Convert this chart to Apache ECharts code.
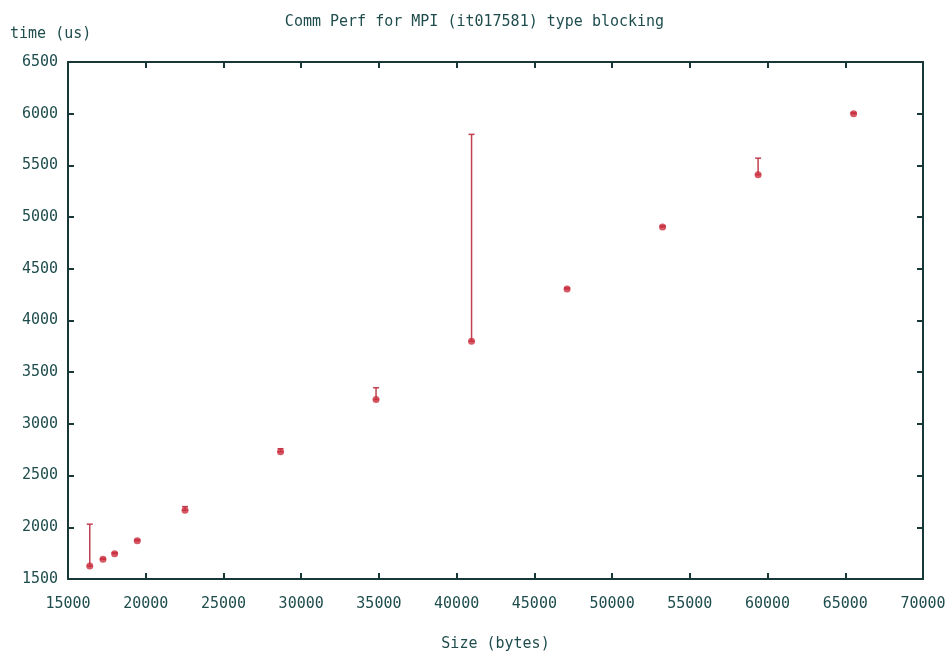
<!DOCTYPE html>
<html>
<head>
<meta charset="utf-8">
<title>Comm Perf for MPI</title>
<script src="https://cdn.jsdelivr.net/npm/echarts@6/dist/echarts.min.js"></script>
<style>
  html, body { margin: 0; padding: 0; background: #fff; }
  #main { width: 949px; height: 660px; }
</style>
</head>
<body>
<div id="main"></div>
<script type="text/javascript">
    // message sizes (bytes)
    var sizes = [16400, 17250, 18000, 19456, 22528, 28672, 34816, 40960, 47104, 53248, 59392, 65536];
    // measured time (us)
    var times = [1625, 1690, 1745, 1870, 2165, 2730, 3235, 3800, 4305, 4905, 5410, 6000];
    // upper end of each error bar (us)
    var highs = [2030, 1700, 1755, 1880, 2200, 2760, 3350, 5800, 4315, 4915, 5570, 6010];

    var textColor = '#1f4d4d';
    var frameColor = '#183838';
    var pointColor = '#cc3040';
    var fontFamily = '"DejaVu Sans Mono", "Liberation Mono", monospace';

    var pts = [];
    var bars = [];
    for (var i = 0; i < sizes.length; i++) {
        pts.push([sizes[i], times[i]]);
        bars.push([sizes[i], times[i], highs[i]]);
    }

    var myChart = echarts.init(document.getElementById('main'));

    function frameAxis(pos, isX, show) {
        return {
            type: 'value',
            position: pos,
            min: isX ? 15000 : 1500,
            max: isX ? 70000 : 6500,
            interval: isX ? 5000 : 500,
            axisLine: { show: true, onZero: false, lineStyle: { color: frameColor, width: 2 } },
            axisTick: { show: true, inside: true, length: 6, lineStyle: { color: frameColor, width: 2 } },
            splitLine: { show: false },
            axisLabel: {
                show: show,
                color: textColor,
                fontFamily: fontFamily,
                fontSize: 15,
                margin: isX ? 18 : 10,
                formatter: function (v) { return String(v); }
            }
        };
    }

    var option = {
        animation: false,
        backgroundColor: '#fff',
        title: {
            text: 'Comm Perf for MPI (it017581) type blocking',
            left: 'center',
            top: 10,
            textStyle: { color: textColor, fontFamily: fontFamily, fontSize: 15, fontWeight: 'normal' }
        },
        grid: { left: 68, right: 26, top: 62, bottom: 81 },
        xAxis: [
            Object.assign(frameAxis('bottom', true, true), {
                name: 'Size (bytes)',
                nameLocation: 'middle',
                nameGap: 58,
                nameTextStyle: { color: textColor, fontFamily: fontFamily, fontSize: 15 }
            }),
            frameAxis('top', true, false)
        ],
        yAxis: [
            Object.assign(frameAxis('left', false, true), {
                name: 'time (us)',
                nameLocation: 'end',
                nameGap: 20,
                nameTextStyle: { color: textColor, fontFamily: fontFamily, fontSize: 15, align: 'left', padding: [0, 0, 0, -58] }
            }),
            frameAxis('right', false, false)
        ],
        series: [
            {
                name: 'errorbar',
                type: 'custom',
                xAxisIndex: 0,
                yAxisIndex: 0,
                data: bars,
                renderItem: function (params, api) {
                    var low = api.coord([api.value(0), api.value(1)]);
                    var high = api.coord([api.value(0), api.value(2)]);
                    var cap = 3;
                    var style = { stroke: '#c04050', lineWidth: 1.5 };
                    return {
                        type: 'group',
                        children: [
                            { type: 'line', shape: { x1: low[0], y1: low[1], x2: high[0], y2: high[1] }, style: style },
                            { type: 'line', shape: { x1: high[0] - cap, y1: high[1], x2: high[0] + cap, y2: high[1] }, style: style },
                            { type: 'line', shape: { x1: low[0] - cap, y1: low[1], x2: low[0] + cap, y2: low[1] }, style: style }
                        ]
                    };
                },
                z: 2
            },
            {
                name: 'time',
                type: 'scatter',
                xAxisIndex: 0,
                yAxisIndex: 0,
                data: pts,
                symbol: 'circle',
                symbolSize: 7,
                itemStyle: { color: pointColor },
                z: 3
            }
        ]
    };

    myChart.setOption(option);
</script>
</body>
</html>
